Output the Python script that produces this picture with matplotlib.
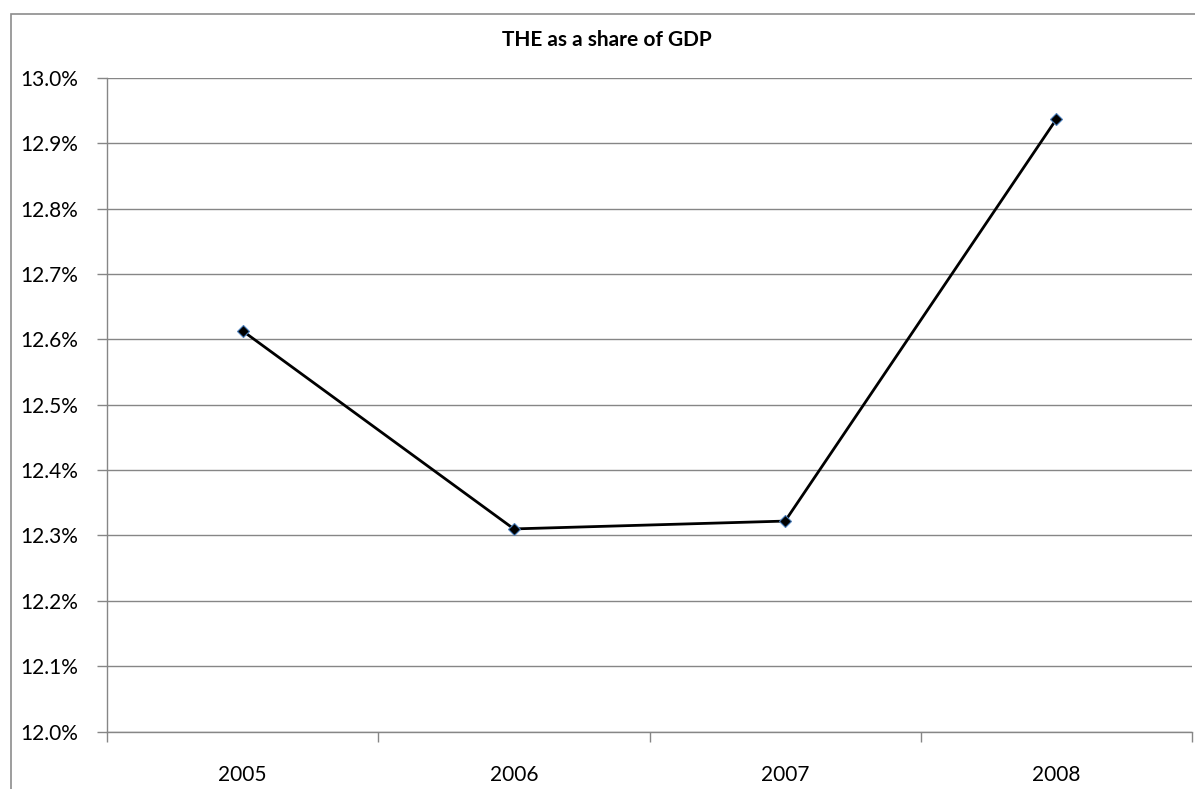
import matplotlib.pyplot as plt
from matplotlib.patches import Rectangle
from matplotlib.ticker import FuncFormatter, FixedLocator

plt.rcParams['font.family'] = ['Lato', 'DejaVu Sans']

years = ['2005', '2006', '2007', '2008']
the_share = [12.613, 12.310, 12.322, 12.937]  # percent of GDP

W, H = 1195, 789
fig = plt.figure(figsize=(W / 100, H / 100), dpi=100)

# outer chart frame (runs off the right and bottom edges)
fig.patches.append(Rectangle((11 / W, -0.05), 1.1, 1 - 14 / H + 0.05,
                             transform=fig.transFigure, fill=False,
                             edgecolor='#8c8c8c', linewidth=1.2))

ax = fig.add_axes([107 / W, 1 - 731.5 / H, (1192 - 107) / W, (731.5 - 78) / H])

x = list(range(len(years)))
ax.plot(x, the_share, color='black', linewidth=2, marker='D', markersize=6,
        markerfacecolor='black', markeredgecolor='#4a7ebb', markeredgewidth=0.8,
        zorder=3)

ax.set_xlim(-0.5, len(years) - 0.5)
ax.set_ylim(12.0, 13.0)
ax.set_yticks([12.0 + 0.1 * i for i in range(11)])
ax.yaxis.set_major_formatter(FuncFormatter(lambda v, p: f'{v:.1f}%'))
ax.yaxis.grid(True, color='#868686', linewidth=1)
ax.set_axisbelow(True)

ax.set_xticks(x)
ax.set_xticklabels(years)
ax.xaxis.set_minor_locator(FixedLocator([i - 0.5 for i in range(len(years) + 1)]))
ax.tick_params(axis='x', which='major', length=0, pad=24, labelsize=15)
ax.tick_params(axis='x', which='minor', length=7, color='#868686', width=1)
ax.tick_params(axis='y', length=7, color='#868686', width=1, pad=14, labelsize=15)

for s in ['top', 'right']:
    ax.spines[s].set_visible(False)
for s in ['left', 'bottom']:
    ax.spines[s].set_color('#868686')
    ax.spines[s].set_linewidth(1)

fig.text(607 / W, 1 - 40 / H, 'THE as a share of GDP', ha='center', va='center',
         fontsize=15, fontweight='bold')

fig.savefig('out.png', dpi=100)
